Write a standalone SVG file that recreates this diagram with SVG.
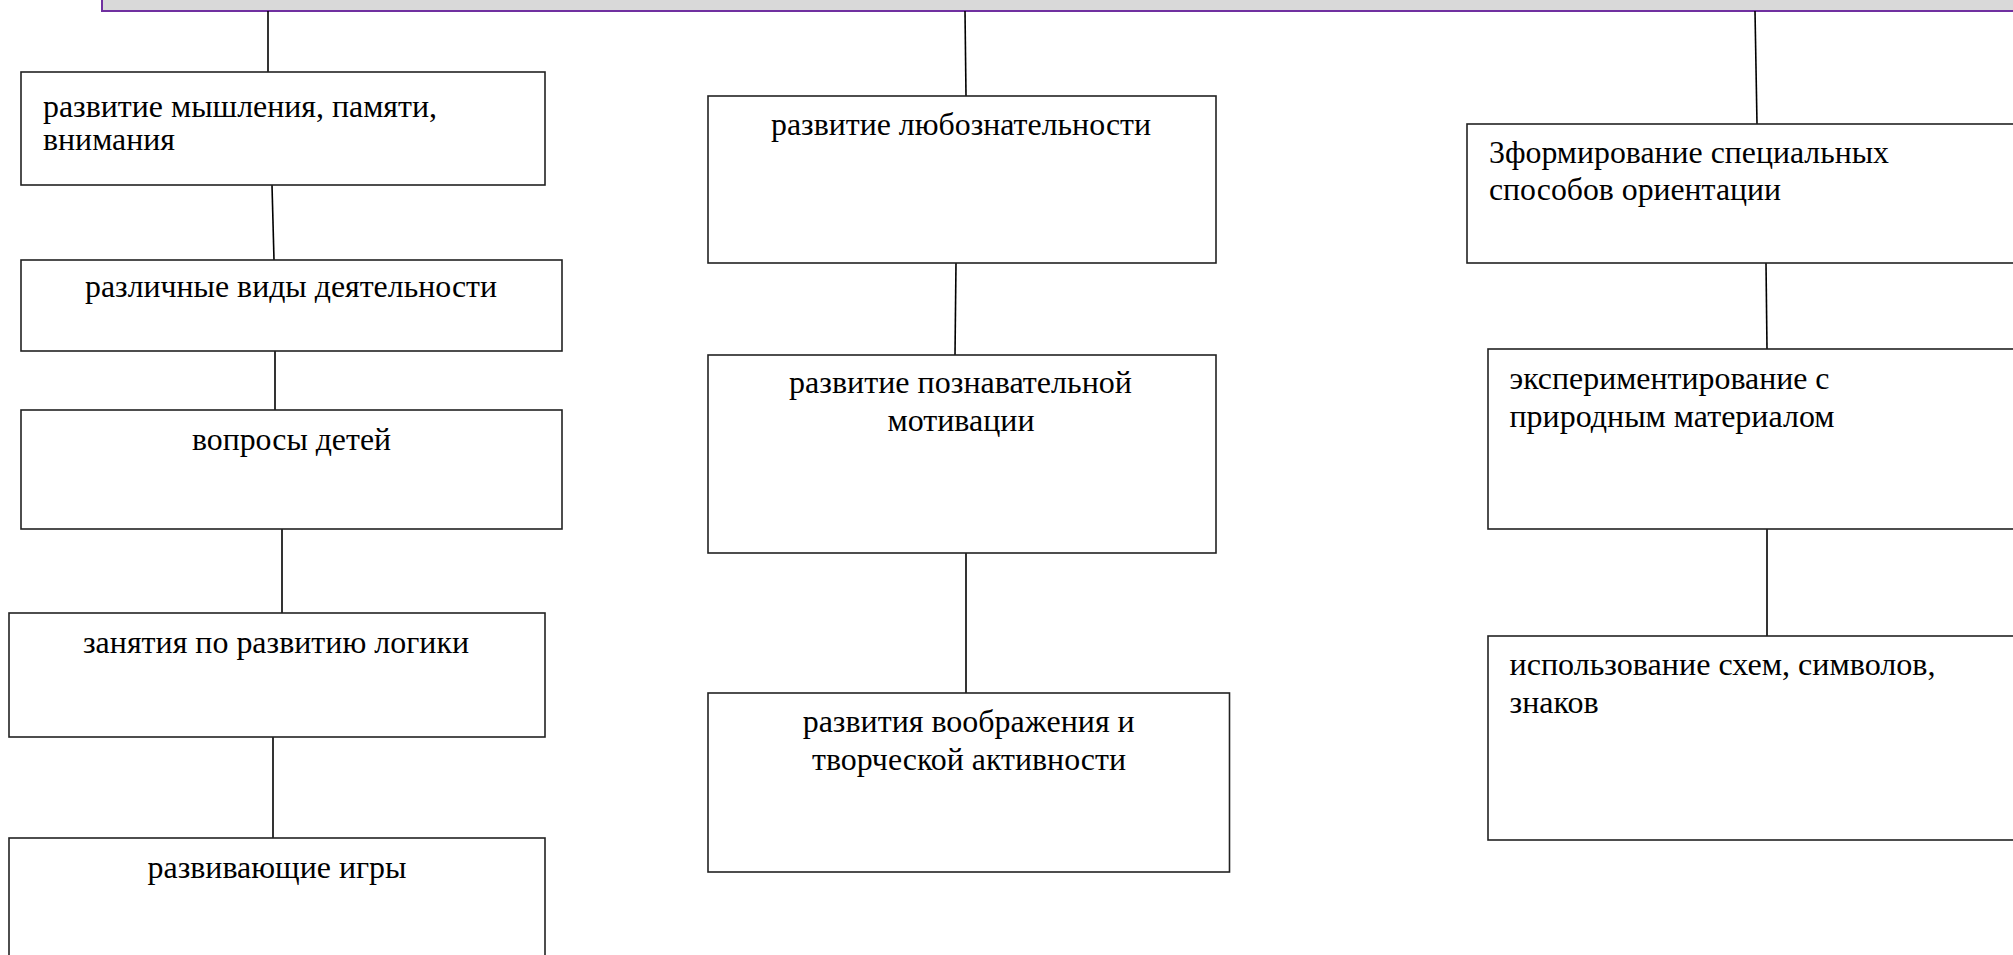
<svg xmlns="http://www.w3.org/2000/svg" width="2013" height="955" viewBox="0 0 2013 955">
<style>
.box{fill:#fff;stroke:#222;stroke-width:1.6}
.ban{fill:#d9d9d9;stroke:#7030a0;stroke-width:2}
.con{stroke:#000;stroke-width:1.6;fill:none}
text{font-family:"Liberation Serif","Times New Roman",serif;font-size:32px;fill:#000}
.c{text-anchor:middle}
</style>
<rect width="2013" height="955" fill="#fff"/>
<g id="banner"><rect class="ban" x="102" y="-10" width="1960" height="21"/></g>
<g id="connectors">
<line class="con" x1="268" y1="11" x2="268" y2="72"/>
<line class="con" x1="272" y1="185" x2="274" y2="260"/>
<line class="con" x1="275" y1="351" x2="275" y2="410"/>
<line class="con" x1="282" y1="529" x2="282" y2="613"/>
<line class="con" x1="273" y1="737" x2="273" y2="838"/>
<line class="con" x1="965" y1="11" x2="966" y2="96"/>
<line class="con" x1="956" y1="263" x2="955" y2="355"/>
<line class="con" x1="966" y1="553" x2="966" y2="693"/>
<line class="con" x1="1755" y1="11" x2="1757" y2="124"/>
<line class="con" x1="1766" y1="263" x2="1767" y2="349"/>
<line class="con" x1="1767" y1="529" x2="1767" y2="636"/>
</g>
<g id="n1"><rect class="box" x="21" y="72" width="524" height="113"/>
<text x="43" y="117" textLength="394" lengthAdjust="spacingAndGlyphs">развитие мышления, памяти,</text>
<text x="43" y="150" textLength="132" lengthAdjust="spacingAndGlyphs">внимания</text></g>
<g id="n2"><rect class="box" x="21" y="260" width="541" height="91"/>
<text class="c" x="291" y="297" textLength="412" lengthAdjust="spacingAndGlyphs">различные виды деятельности</text></g>
<g id="n3"><rect class="box" x="21" y="410" width="541" height="119"/>
<text class="c" x="291.5" y="450" textLength="199" lengthAdjust="spacingAndGlyphs">вопросы детей</text></g>
<g id="n4"><rect class="box" x="9" y="613" width="536" height="124"/>
<text class="c" x="276" y="653" textLength="386" lengthAdjust="spacingAndGlyphs">занятия по развитию логики</text></g>
<g id="n5"><rect class="box" x="9" y="838" width="536" height="140"/>
<text class="c" x="277" y="878" textLength="259" lengthAdjust="spacingAndGlyphs">развивающие игры</text></g>
<g id="m1"><rect class="box" x="708" y="96" width="508" height="167"/>
<text class="c" x="961" y="135" textLength="380" lengthAdjust="spacingAndGlyphs">развитие любознательности</text></g>
<g id="m2"><rect class="box" x="708" y="355" width="508" height="198"/>
<text class="c" x="960.5" y="393" textLength="343" lengthAdjust="spacingAndGlyphs">развитие познавательной</text>
<text class="c" x="961" y="431" textLength="147" lengthAdjust="spacingAndGlyphs">мотивации</text></g>
<g id="m3"><rect class="box" x="708" y="693" width="521.5" height="179"/>
<text class="c" x="968.7" y="732" textLength="332" lengthAdjust="spacingAndGlyphs">развития воображения и</text>
<text class="c" x="969" y="770" textLength="314" lengthAdjust="spacingAndGlyphs">творческой активности</text></g>
<g id="r1"><rect class="box" x="1467" y="124" width="600" height="139"/>
<text x="1489" y="163" textLength="400" lengthAdjust="spacingAndGlyphs">3формирование специальных</text>
<text x="1489" y="200" textLength="292" lengthAdjust="spacingAndGlyphs">способов ориентации</text></g>
<g id="r2"><rect class="box" x="1488" y="349" width="600" height="180"/>
<text x="1509.5" y="389" textLength="320" lengthAdjust="spacingAndGlyphs">экспериментирование с</text>
<text x="1509.5" y="427" textLength="325" lengthAdjust="spacingAndGlyphs">природным материалом</text></g>
<g id="r3"><rect class="box" x="1488" y="636" width="600" height="204"/>
<text x="1509.5" y="675" textLength="426" lengthAdjust="spacingAndGlyphs">использование схем, символов,</text>
<text x="1509.5" y="713" textLength="89" lengthAdjust="spacingAndGlyphs">знаков</text></g>
</svg>
